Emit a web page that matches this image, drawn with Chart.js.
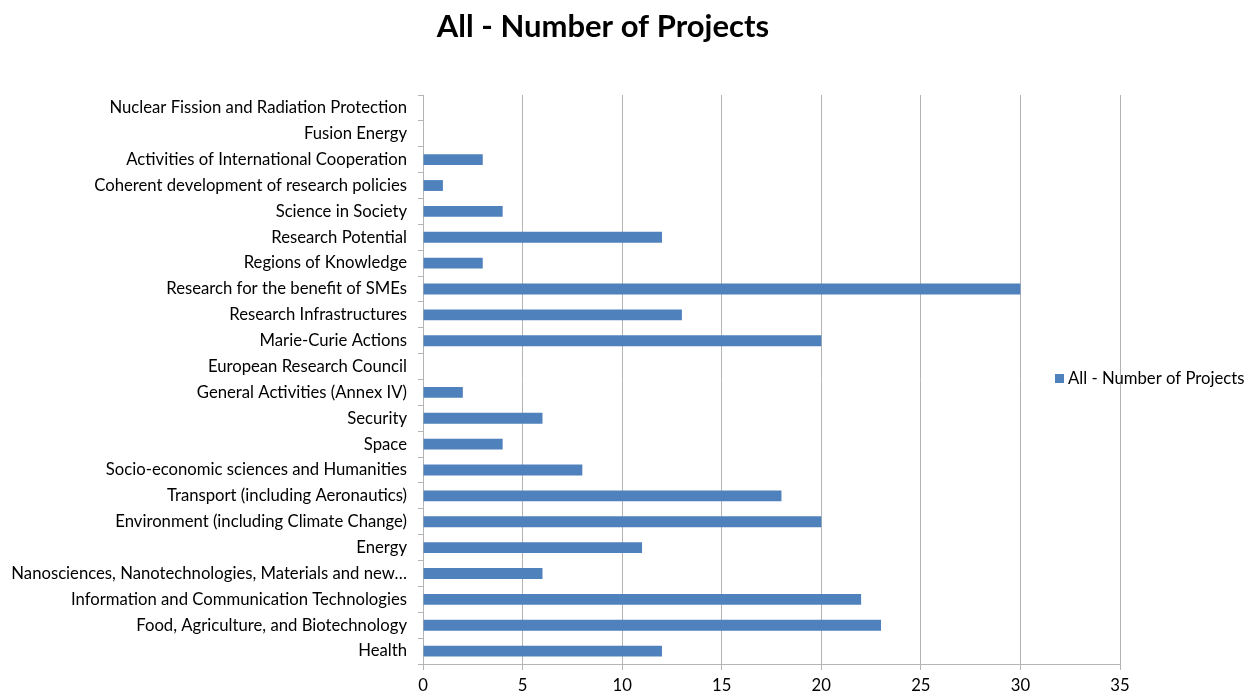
<!DOCTYPE html>
<html>
<head>
<meta charset="utf-8">
<title>All - Number of Projects</title>
<script src="https://cdn.jsdelivr.net/npm/chart.js@4/dist/chart.umd.min.js"></script>
<style>
  html, body { margin: 0; padding: 0; background: #fff; }
  #wrap { width: 1249px; height: 695px; }
</style>
</head>
<body>
<div id="wrap"><canvas id="projChart"></canvas></div>
<script>
// Categories (top to bottom as shown)
const categories = [
    'Nuclear Fission and Radiation Protection',
    'Fusion Energy',
    'Activities of International Cooperation',
    'Coherent development of research policies',
    'Science in Society',
    'Research Potential',
    'Regions of Knowledge',
    'Research for the benefit of SMEs',
    'Research Infrastructures',
    'Marie-Curie Actions',
    'European Research Council',
    'General Activities (Annex IV)',
    'Security',
    'Space',
    'Socio-economic sciences and Humanities',
    'Transport (including Aeronautics)',
    'Environment (including Climate Change)',
    'Energy',
    'Nanosciences, Nanotechnologies, Materials and new\u2026',
    'Information and Communication Technologies',
    'Food, Agriculture, and Biotechnology',
    'Health'
];

// Number of projects
const projectCounts = [0, 0, 3, 1, 4, 12, 3, 30, 13, 20, 0, 2, 6, 4, 8, 18, 20, 11, 6, 22, 23, 12];

const seriesName = 'All - Number of Projects';
const xTicks = [0, 5, 10, 15, 20, 25, 30, 35];

const barColor = '#4f81bd';
const gridColor = '#b4b4b4';
const labelFont = { family: 'Lato', size: 16.7 };

// Title + legend drawn by hand: the original's title is not centred on the
// canvas and its legend sits over the plot area
const titleAndLegend = {
    id: 'titleAndLegend',
    afterDraw(chart) {
        const ctx = chart.ctx;
        const ds = chart.data.datasets[0];
        ctx.save();
        ctx.fillStyle = '#000';
        ctx.font = 'bold 31px Lato';
        ctx.textAlign = 'center';
        ctx.textBaseline = 'middle';
        ctx.fillText(seriesName, 603, 27);

        ctx.fillStyle = ds.backgroundColor;
        ctx.fillRect(1055, 374, 9, 9);
        ctx.fillStyle = '#000';
        ctx.font = '16.7px Lato';
        ctx.textAlign = 'left';
        ctx.fillText(ds.label, 1068, 379);
        ctx.restore();
    }
};

new Chart(document.getElementById('projChart'), {
    type: 'bar',
    data: {
        labels: categories,
        datasets: [{
            label: seriesName,
            data: projectCounts,
            backgroundColor: barColor,
            borderWidth: 0,
            categoryPercentage: 1,
            barPercentage: 0.42
        }]
    },
    options: {
        indexAxis: 'y',
        responsive: true,
        maintainAspectRatio: false,
        animation: false,
        layout: {
            padding: { left: 0, right: 129, top: 95, bottom: 0 }
        },
        plugins: {
            legend: { display: false },
            tooltip: { enabled: false },
            title: { display: false }
        },
        scales: {
            x: {
                min: 0,
                max: 35,
                afterBuildTicks: (axis) => {
                    axis.ticks = xTicks.map(v => ({ value: v }));
                },
                afterFit: (axis) => { axis.height = 31; },
                grid: {
                    color: gridColor,
                    tickLength: 6,
                    lineWidth: 1
                },
                border: { color: gridColor },
                ticks: {
                    color: '#000',
                    font: labelFont,
                    padding: 6
                }
            },
            y: {
                afterFit: (axis) => { axis.width = 423; },
                grid: {
                    drawOnChartArea: false,
                    color: gridColor,
                    tickLength: 5,
                    offset: true
                },
                border: { color: gridColor },
                ticks: {
                    color: '#000',
                    font: labelFont,
                    padding: 11,
                    autoSkip: false
                }
            }
        }
    },
    plugins: [titleAndLegend]
});
</script>
</body>
</html>
